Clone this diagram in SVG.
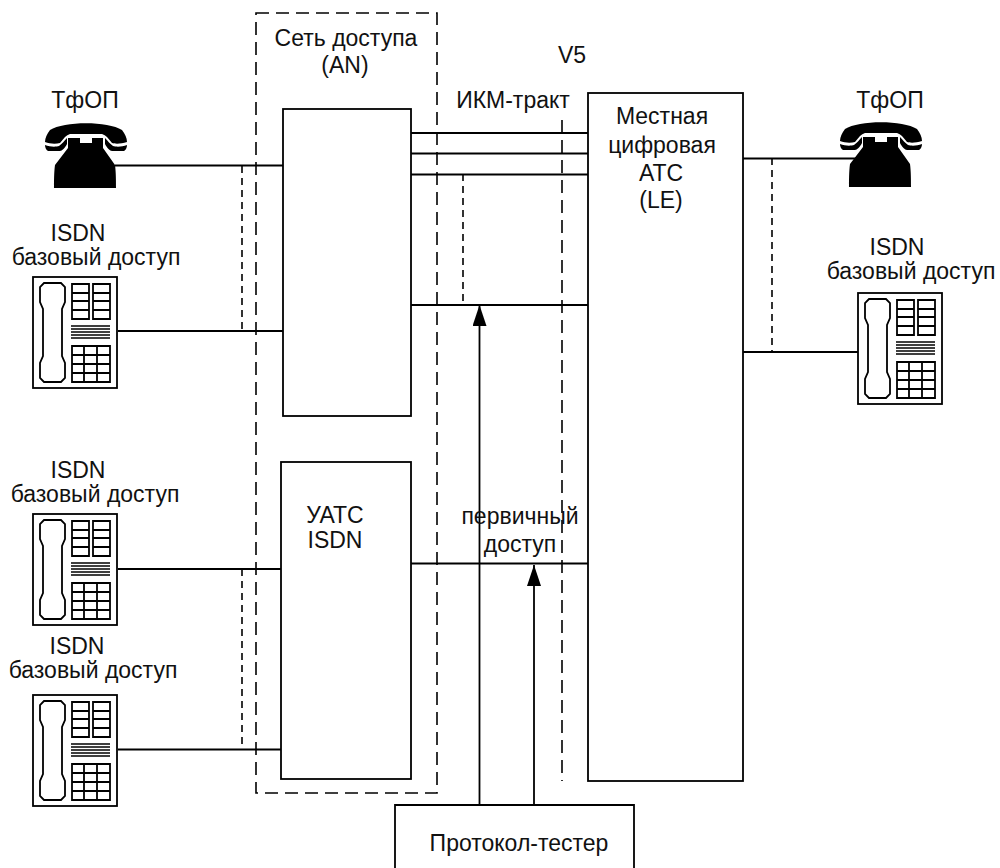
<svg xmlns="http://www.w3.org/2000/svg" width="1000" height="868" viewBox="0 0 1000 868">
<style>
text{font-family:"Liberation Sans",Arial,sans-serif;font-size:23px;fill:#111;text-anchor:middle}
.l{fill:none;stroke:#000;stroke-width:1.8}
.t{fill:none;stroke:#000;stroke-width:1.4}
.d{fill:none;stroke:#000;stroke-width:1.6;stroke-dasharray:13 7}
.d2{fill:none;stroke:#000;stroke-width:1.6;stroke-dasharray:7 5}
</style>
<defs>
<symbol id="isdn" overflow="visible" width="84" height="111">
<rect class="l" x="0" y="0" width="84" height="111"/>
<path class="l" d="M11 6H28L32 10V25L29 32V79L32 86V101L28 105H11L7 101V86L10 79V32L7 25V10Z"/>
<path class="l" d="M39 7H56V42H39ZM60 7H77V42H60ZM39 16H56M39 24H56M39 33H56M60 16H77M60 24H77M60 33H77"/>
<path class="t" d="M38 49H77M38 52H77M38 55H77M38 58H77M38 61H77"/>
<path class="l" d="M39 69H77V105H39ZM51 69V105M64 69V105M39 78H77M39 87H77M39 96H77"/>
</symbol>
<symbol id="tel" overflow="visible" width="83" height="66">
<path d="M6 8C20 -1 64 -1 78 8C81 12 83 16 83 20C77 22 71 22 68 21C64 16 62 13 58 12H26C22 13 20 16 16 21C12 22 6 22 1 20C1 16 3 12 6 8Z" fill="#000"/>
<path d="M1 23C6 25 12 25 15 24C18 22 20 19 23 16V22C21 26 18 29 16 29H4C2 28 1 25 1 23ZM83 23C78 25 72 25 69 24C66 22 64 19 61 16V22C63 26 66 29 68 29H80C82 28 83 25 83 23Z" fill="#000"/>
<path d="M24 16H36V21H48V16H59V26L71 43C72 50 72 60 72 66H10C10 60 10 50 11 43L24 26Z" fill="#000"/>
</symbol>
<marker id="arr" markerUnits="userSpaceOnUse" markerWidth="22" markerHeight="15" refX="21" refY="7" orient="auto"><path d="M0 0L21 7L0 14Z" fill="#000"/></marker>
</defs>
<g id="connectors">
<path class="l" d="M115 165.500H283M118 331H283M118 569H281M118 749.500H281"/>
<path class="l" d="M411 133H588M411 153.500H588M411 174.500H588M411 305H588M411 563.500H588"/>
<path class="l" d="M743 158.500H856M743 352H858"/>
<path class="d2" d="M242 166V331M242 569V749M463 174V305M772 158V352"/>
<path class="d" d="M562 120V781"/>
<path class="l" d="M479.500 805V305" marker-end="url(#arr)"/>
<path class="l" d="M534 805V565" marker-end="url(#arr)"/>
</g>
<g id="access-network"><rect class="d" x="256" y="13" width="181" height="780"/><text x="346" y="46">Сеть доступа</text><text x="345" y="73">(AN)</text></g>
<g id="an-box"><rect class="l" x="283" y="109" width="128" height="307"/></g>
<g id="pbx"><rect class="l" x="281" y="462" width="130" height="317"/><text x="335" y="523">УАТС</text><text x="335" y="548">ISDN</text></g>
<g id="le"><rect class="l" x="588" y="93" width="155" height="688"/><text x="662" y="124">Местная</text><text x="662" y="153">цифровая</text><text x="661" y="181">АТС</text><text x="661" y="208">(LE)</text></g>
<g id="tester"><path class="l" d="M395 868V805H634V868"/><text x="519" y="851">Протокол-тестер</text></g>
<g id="v5"><text x="572" y="63">V5</text></g>
<g id="pcm"><text x="513" y="108">ИКМ-тракт</text></g>
<g id="primary"><text x="520" y="524">первичный</text><text x="520" y="552">доступ</text></g>
<g id="tel-left"><text x="85" y="108">ТфОП</text><use href="#tel" x="44" y="122"/></g>
<g id="tel-right"><text x="890" y="108">ТфОП</text><use href="#tel" x="839" y="121"/></g>
<g id="isdn1"><text x="78" y="241">ISDN</text><text x="96" y="265">базовый доступ</text><use href="#isdn" x="33" y="277"/></g>
<g id="isdn2"><text x="78" y="478">ISDN</text><text x="95" y="502">базовый доступ</text><use href="#isdn" x="33" y="514"/></g>
<g id="isdn3"><text x="77" y="654">ISDN</text><text x="93" y="678">базовый доступ</text><use href="#isdn" x="33" y="695"/></g>
<g id="isdn4"><text x="897" y="255">ISDN</text><text x="911" y="279">базовый доступ</text><use href="#isdn" x="858" y="293"/></g>
</svg>
